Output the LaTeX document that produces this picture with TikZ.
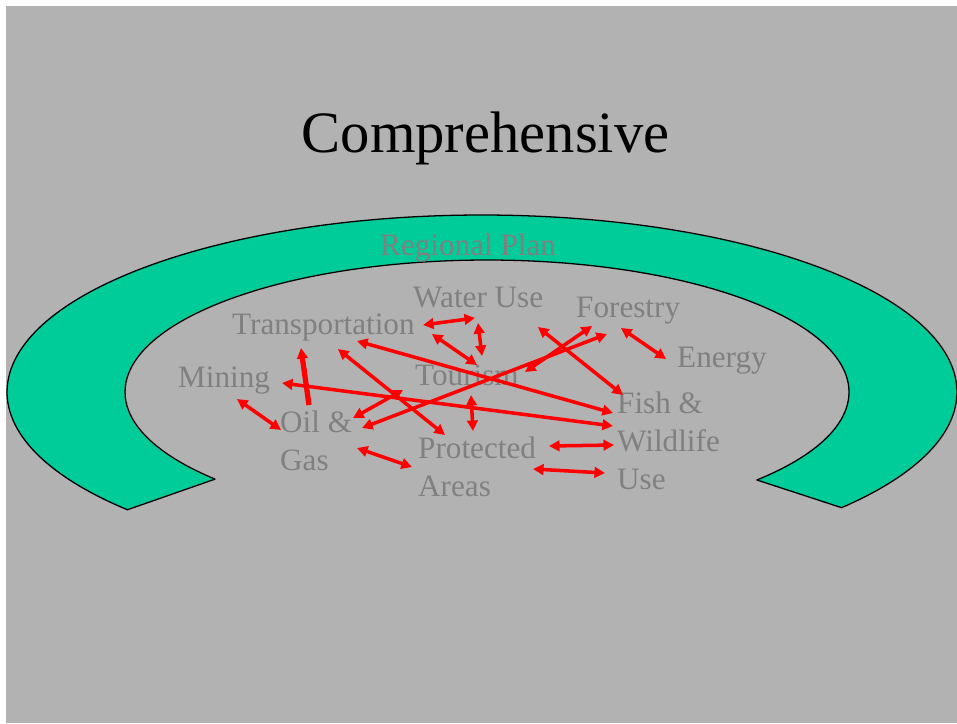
\documentclass[tikz,border=0pt]{standalone}
\usepackage{fontspec}
\setmainfont{Liberation Serif}
\usetikzlibrary{arrows.meta,calc}
\definecolor{slidegray}{RGB}{178,178,178}
\definecolor{plangreen}{RGB}{0,204,153}
\definecolor{topicgray}{RGB}{128,128,128}
\tikzset{
  topic/.style={anchor=base west,inner sep=0pt,text=topicgray,align=left,
    font=\fontsize{26.6}{32.3}\selectfont},
  link/.style={red,line width=3pt},
}
\begin{document}
\begin{tikzpicture}[x=0.03cm,y=-0.03cm,>={Triangle[length=9pt,width=9pt]},line join=round]
  \useasboundingbox (0,0) rectangle (957,723);
  \fill[white] (0,0) rectangle (957,723);
  \fill[slidegray] (6,6) rectangle (957,723);
  % the regional plan ring
  \filldraw[fill=plangreen,draw=black,line width=1.1pt]
    (482,392) ++(138.3:475 and 177) arc[start angle=138.3,end angle=400.8,x radius=475,y radius=177]
    -- ($(487,392)+(41.8:362 and 132)$) arc[start angle=41.8,end angle=-221.3,x radius=362,y radius=132]
    -- cycle;
  \node[anchor=base,font=\fontsize{50}{60}\selectfont] (title) at (485.5,152) {Comprehensive};
  \node[topic] (plan) at (380,255) {Regional Plan};
  % topics (multi-line ones sit on their last line)
  \node[topic] (water) at (413,307) {Water Use};
  \node[topic] (forest) at (576,317) {Forestry};
  \node[topic] (trans) at (232,334) {Transportation};
  \node[topic] (energy) at (677,367) {Energy};
  \node[topic] (mining) at (178,387) {Mining};
  \node[topic] (tourism) at (415,385) {Tourism};
  \node[topic] (fish) at (617,489) {Fish \&\\Wildlife\\Use};
  \node[topic] (oil) at (280,470) {Oil \&\\Gas};
  \node[topic] (areas) at (418,496) {Protected\\Areas};
  % arrow ends
  \coordinate (tr1) at (423,325); \coordinate (tr2) at (432,334);
  \coordinate (tr3) at (357,341); \coordinate (tr4) at (301,348);
  \coordinate (tr5) at (338,349);
  \coordinate (wu1) at (475,318); \coordinate (wu2) at (478,323);
  \coordinate (to1) at (482,356); \coordinate (to2) at (477,365);
  \coordinate (to3) at (403,390); \coordinate (to4) at (525,372);
  \coordinate (to5) at (471,395);
  \coordinate (fw1) at (613,413); \coordinate (fw2) at (613,426);
  \coordinate (fw3) at (623,395); \coordinate (fw4) at (614,445);
  \coordinate (fw5) at (605,473);
  \coordinate (mi1) at (282,383); \coordinate (mi2) at (237,399);
  \coordinate (og1) at (309,405); \coordinate (og2) at (281,430);
  \coordinate (og3) at (353,418); \coordinate (og4) at (362,428);
  \coordinate (og5) at (357,448);
  \coordinate (pa1) at (445,435); \coordinate (pa2) at (473,431);
  \coordinate (pa3) at (549,446); \coordinate (pa4) at (533,469);
  \coordinate (pa5) at (412,467);
  \coordinate (fo1) at (592,326); \coordinate (fo2) at (607,334);
  \coordinate (fo3) at (538,327); \coordinate (fo4) at (621,328);
  \coordinate (en1) at (666,359);
  % links
  \draw[link,<->] (tr1) -- (wu1);
  \draw[link,<->] (wu2) -- (to1);
  \draw[link,<->] (tr2) -- (to2);
  \draw[link,<->] (tr3) -- (fw1);
  \draw[link,<->] (mi1) -- (fw2);
  \draw[link,->,line width=4.5pt] (og1) -- (tr4);
  \draw[link,<->] (mi2) -- (og2);
  \draw[link,<->] (tr5) -- (pa1);
  \draw[link,<->] (og3) -- (to3);
  \draw[link,<->] (to4) -- (fo1);
  \draw[link,<->] (og4) -- (fo2);
  \draw[link,<->] (fo3) -- (fw3);
  \draw[link,<->] (fo4) -- (en1);
  \draw[link,<->] (to5) -- (pa2);
  \draw[link,<->] (pa3) -- (fw4);
  \draw[link,<->] (pa4) -- (fw5);
  \draw[link,<->] (og5) -- (pa5);
\end{tikzpicture}
\end{document}
